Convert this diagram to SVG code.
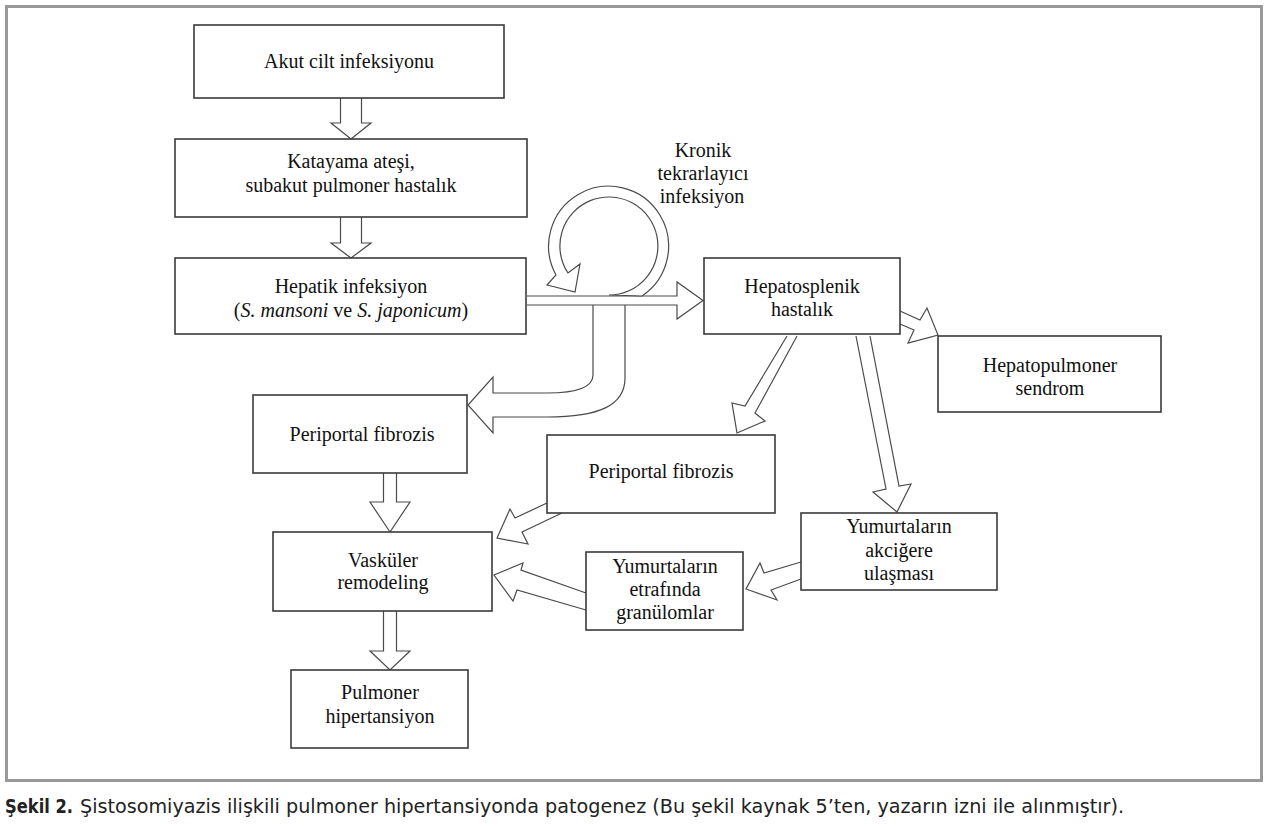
<svg xmlns="http://www.w3.org/2000/svg" width="1267" height="828" viewBox="0 0 1267 828">
<style>
.box{fill:#fff;stroke:#3a3a3a;stroke-width:1.6}
.arr{fill:#fff;stroke:#4a4a4a;stroke-width:1.2;stroke-linejoin:miter}
.t{font-family:"Liberation Serif","Times New Roman",serif;font-size:20px;fill:#111;text-anchor:middle}
.cap{font-family:"Liberation Sans Narrow","DejaVu Sans Condensed","Liberation Sans",sans-serif;font-size:19px;fill:#222}
</style>
<rect x="0" y="0" width="1267" height="828" fill="#fff"/>
<rect x="6.5" y="6.5" width="1255" height="774" fill="none" stroke="#999" stroke-width="3"/>

<g id="connectors">
  <path class="arr" d="M340.5,98 V123 H331 L351,139 L371,123 H361.5 V98"/>
  <path class="arr" d="M340.5,217 V243 H331 L351,258 L371,243 H361.5 V217"/>
  <path class="arr" d="M383.5,473 V502 H370 L390,532 L410,502 H396.5 V473"/>
  <path class="arr" d="M383.5,611 V651 H370 L390,670 L410,651 H396.5 V611"/>
  <path class="arr" d="M593,305 V375 C593,388 575,393 547,393 H493 V377 L468,405 L493,433 V417 H547 C600,417 625,405 625,378 V305"/>
  <path class="arr" d="M527,296 H677 V282 L703,300.5 L677,319 V305 H527"/>
  <path class="arr" d="M642,296 A60,60 0 1 0 556,275 L547,285 L575,292 L580,264 L568,273 A49,49 0 1 1 609,295 Z"/>
  <path class="arr" d="M900,311 L920,320 L927,308 L938,335 L908,343 L914,330 L900,324"/>
  <path class="arr" d="M787,336 L745,406 L732,403 L737,433 L765,421 L755,413 L797,336"/>
  <path class="arr" d="M856,336 L886,489 L873,492 L897,512 L911,484 L899,486 L870,336"/>
  <path class="arr" d="M547,503 L515,518 L510,509 L497,538 L528,544 L522,532 L562,513"/>
  <path class="arr" d="M586,593 L521,570 L523,563 L494,575 L513,601 L517,590 L586,610"/>
  <path class="arr" d="M801,562 L764,573 L760,563 L746,589 L777,600 L771,590 L801,579"/>
</g>

<g id="akut">
  <rect class="box" x="194" y="25" width="310" height="73"/>
  <text class="t" x="349" y="68">Akut cilt infeksiyonu</text>
</g>
<g id="katayama">
  <rect class="box" x="175" y="139" width="352" height="78"/>
  <text class="t" x="351" y="168">Katayama ateşi,</text>
  <text class="t" x="351" y="192">subakut pulmoner hastalık</text>
</g>
<g id="hepatik">
  <rect class="box" x="175" y="258" width="351" height="76"/>
  <text class="t" x="351" y="293">Hepatik infeksiyon</text>
  <text class="t" x="351" y="317">(<tspan font-style="italic">S. mansoni</tspan> ve <tspan font-style="italic">S. japonicum</tspan>)</text>
</g>
<g id="kronik">
  <text class="t" x="703" y="157">Kronik</text>
  <text class="t" x="703" y="180">tekrarlayıcı</text>
  <text class="t" x="702" y="203">infeksiyon</text>
</g>
<g id="hepatosplenik">
  <rect class="box" x="704" y="258" width="196" height="76"/>
  <text class="t" x="802" y="293">Hepatosplenik</text>
  <text class="t" x="802" y="316">hastalık</text>
</g>
<g id="hepatopulmoner">
  <rect class="box" x="938" y="336" width="223" height="76"/>
  <text class="t" x="1050" y="372">Hepatopulmoner</text>
  <text class="t" x="1050" y="395">sendrom</text>
</g>
<g id="periportal1">
  <rect class="box" x="253" y="395" width="214" height="78"/>
  <text class="t" x="362" y="441">Periportal fibrozis</text>
</g>
<g id="periportal2">
  <rect class="box" x="547" y="435" width="228" height="78"/>
  <text class="t" x="661" y="478">Periportal fibrozis</text>
</g>
<g id="vaskuler">
  <rect class="box" x="273" y="532" width="219" height="79"/>
  <text class="t" x="383" y="567">Vasküler</text>
  <text class="t" x="383" y="589">remodeling</text>
</g>
<g id="pulmoner">
  <rect class="box" x="291" y="670" width="177" height="78"/>
  <text class="t" x="380" y="699">Pulmoner</text>
  <text class="t" x="380" y="723">hipertansiyon</text>
</g>
<g id="akcigere">
  <rect class="box" x="801" y="513" width="196" height="77"/>
  <text class="t" x="899" y="533">Yumurtaların</text>
  <text class="t" x="899" y="557">akciğere</text>
  <text class="t" x="899" y="580">ulaşması</text>
</g>
<g id="granulom">
  <rect class="box" x="586" y="552" width="157" height="78"/>
  <text class="t" x="665" y="573">Yumurtaların</text>
  <text class="t" x="665" y="596">etrafında</text>
  <text class="t" x="665" y="619">granülomlar</text>
</g>

<g id="caption">
  <text class="cap" x="5" y="813" font-weight="bold" textLength="68" lengthAdjust="spacingAndGlyphs">Şekil 2.</text>
  <text class="cap" x="80" y="813" textLength="1044" lengthAdjust="spacingAndGlyphs">Şistosomiyazis ilişkili pulmoner hipertansiyonda patogenez (Bu şekil kaynak 5’ten, yazarın izni ile alınmıştır).</text>
</g>
</svg>
